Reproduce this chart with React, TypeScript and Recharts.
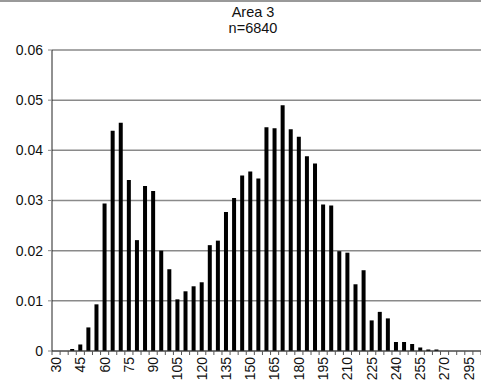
import { BarChart, Bar, XAxis, YAxis, CartesianGrid } from 'recharts'

// bin labels (every 3rd one is printed on the axis)
const bins = [
  '30', '35', '40', '45', '50', '55', '60', '65', '70', '75',
  '80', '85', '90', '95', '100', '105', '110', '115', '120', '125',
  '130', '135', '140', '145', '150', '155', '160', '165', '170', '175',
  '180', '185', '190', '195', '200', '205', '210', '215', '220', '225',
  '230', '235', '240', '245', '250', '255', '260', '265', '270', '275',
  '285', '295', '300',
]

// relative frequency per bin
const freq = [
  0, 0, 0.0004, 0.0013, 0.0047, 0.0093, 0.0294, 0.0439, 0.0455, 0.0341,
  0.0221, 0.0329, 0.0319, 0.02, 0.0163, 0.0103, 0.0119, 0.0129, 0.0137, 0.0211,
  0.022, 0.0277, 0.0305, 0.035, 0.0358, 0.0344, 0.0446, 0.0444, 0.049, 0.0442,
  0.0427, 0.0388, 0.0374, 0.0292, 0.029, 0.0199, 0.0196, 0.0133, 0.0161, 0.0061,
  0.0078, 0.0065, 0.0018, 0.0018, 0.0014, 0.0007, 0.0003, 0.0003, 0, 0,
  0, 0, 0,
]

const yTicks = [0, 0.01, 0.02, 0.03, 0.04, 0.05, 0.06]

const data = bins.map((bin, i) => ({ bin, share: freq[i] }))

const FONT = '"Liberation Sans", Arial, sans-serif'

function BinTick(props: any) {
  const { x, y, payload, index } = props
  const half = payload?.offset ?? 4
  const axisY = y - 6
  const isLast = index === bins.length - 1
  return (
    <g>
      <line x1={x - half} x2={x - half} y1={axisY} y2={axisY + 4} stroke="#555" />
      {isLast && <line x1={x + half} x2={x + half} y1={axisY} y2={axisY + 4} stroke="#555" />}
      {index % 3 === 0 && (
        <text
          x={x}
          y={y}
          transform={`rotate(-90, ${x}, ${y})`}
          textAnchor="end"
          dy="0.35em"
          fontSize={14}
          fontFamily={FONT}
          fill="#111"
        >
          {payload.value}
        </text>
      )}
    </g>
  )
}

export default function App() {
  return (
    <div style={{ position: 'absolute', left: 0, top: 0, width: 481, height: 386, background: '#fff' }}>
      <div style={{ position: 'absolute', left: 0, top: 0, width: 481, height: 2, background: '#999' }} />
      <div
        style={{
          position: 'absolute', left: 153, top: 4, width: 200, textAlign: 'center',
          fontFamily: FONT, fontSize: 14.5, lineHeight: '16px', color: '#111',
        }}
      >
        Area 3
        <br />
        n=6840
      </div>
      <BarChart
        width={481}
        height={386}
        data={data}
        margin={{ top: 50, right: 0, bottom: 0, left: 0 }}
      >
        <CartesianGrid vertical={false} stroke="#8a8a8a" strokeWidth={1.5} />
        <XAxis
          dataKey="bin"
          interval={0}
          height={35}
          tickSize={4}
          tickMargin={2}
          tickLine={false}
          axisLine={{ stroke: '#444' }}
          tick={<BinTick />}
        />
        <YAxis
          width={52}
          domain={[0, 0.06]}
          ticks={yTicks}
          tickSize={4}
          tickMargin={5}
          axisLine={{ stroke: '#222' }}
          tickLine={{ stroke: '#888' }}
          tick={{ fontSize: 14, fontFamily: FONT, fill: '#111' }}
          tickFormatter={(v: number) => (v === 0 ? '0' : v.toFixed(2))}
        />
        <Bar dataKey="share" fill="#000" barSize={4} isAnimationActive={false} />
      </BarChart>
    </div>
  )
}
